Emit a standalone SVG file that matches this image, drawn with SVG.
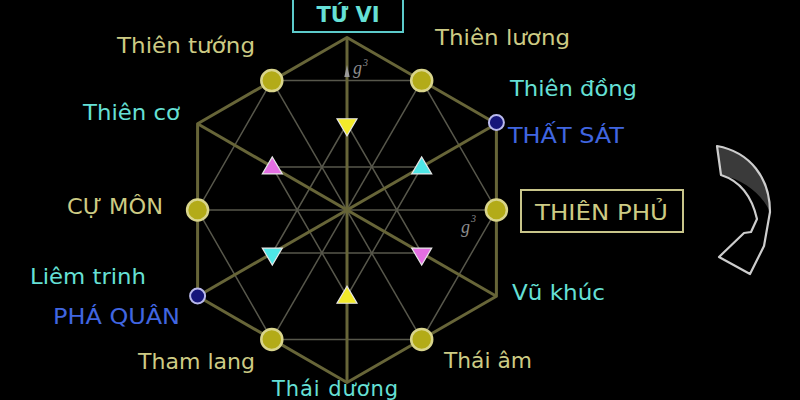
<svg xmlns="http://www.w3.org/2000/svg" width="800" height="400" viewBox="0 0 800 400">
<style>
.thin{stroke:#57574b;stroke-width:1.5;fill:none}
.thick{stroke:#676538;stroke-width:3;fill:none;stroke-linejoin:round}
.star{fill:#b3ab18;stroke:#d9d58c;stroke-width:2.5}
.blue{fill:#16167a;stroke:#b9b9ec;stroke-width:2}
.tri{stroke:#e6e6e6;stroke-width:1.2}
.lbl{font-family:"DejaVu Sans","Liberation Sans",sans-serif;font-size:21px}
.kh{fill:#cdcb84}
.cy{fill:#66e0d6}
.bl{fill:#4066e0}
.gl{font-family:"Liberation Serif",serif;font-style:italic;fill:#8c8c8c}
</style>
<rect width="800" height="400" fill="#000"/>

<g id="connectors">
  <polygon class="thin" points="271.8,80.6 421.7,80.6 496.4,210 421.7,339.4 271.8,339.4 197.6,210"/>
  <line class="thin" x1="271.8" y1="80.6" x2="421.7" y2="339.4"/>
  <line class="thin" x1="421.7" y1="80.6" x2="271.8" y2="339.4"/>
  <line class="thin" x1="197.6" y1="210" x2="496.4" y2="210"/>
  <polygon class="thin" points="347,123.75 272.3,253.1 421.7,253.1"/>
  <polygon class="thin" points="347,296.25 272.3,166.9 421.7,166.9"/>
  <polygon class="thick" points="347,37.5 496.4,123.75 496.4,296.25 347,382.5 197.6,296.25 197.6,123.75"/>
  <line class="thick" x1="197.6" y1="123.75" x2="496.4" y2="296.25"/>
  <line class="thick" x1="197.6" y1="296.25" x2="496.4" y2="123.75"/>
  <line class="thick" x1="347" y1="37.5" x2="347" y2="382.5"/>
  <polygon points="347,65 344.3,77 349.7,77" fill="#9a9a9a"/>
</g>

<g id="g3-labels">
  <text class="gl" x="353" y="74" font-size="18">g</text>
  <text class="gl" x="363" y="66" font-size="10">3</text>
  <text class="gl" x="461" y="233" font-size="18">g</text>
  <text class="gl" x="471" y="222" font-size="10">3</text>
</g>

<g id="markers">
  <polygon id="m-yellow-down" class="tri" fill="#f2ea2a" points="337,118.75 357,118.75 347,135.75"/>
  <polygon id="m-cyan-up" class="tri" fill="#4ee6e6" points="421.7,156.9 411.7,173.9 431.7,173.9"/>
  <polygon id="m-magenta-up" class="tri" fill="#e46ee2" points="272.3,156.9 262.3,173.9 282.3,173.9"/>
  <polygon id="m-cyan-down" class="tri" fill="#4ee6e6" points="262.3,248.1 282.3,248.1 272.3,265.1"/>
  <polygon id="m-magenta-down" class="tri" fill="#e46ee2" points="411.7,248.1 431.7,248.1 421.7,265.1"/>
  <polygon id="m-yellow-up" class="tri" fill="#f2ea2a" points="347,286.25 337,303.25 357,303.25"/>
</g>

<g id="tu-vi">
  <rect x="293" y="-3" width="110" height="35" fill="none" stroke="#5ccaca" stroke-width="2"/>
  <text class="lbl cy" x="348" y="22" text-anchor="middle" font-weight="bold" font-size="19">TỨ VI</text>
</g>

<g id="thien-tuong">
  <circle class="star" cx="271.8" cy="80.6" r="10.5"/>
  <text class="lbl kh" x="117" y="53" textLength="138" lengthAdjust="spacingAndGlyphs">Thiên tướng</text>
</g>

<g id="thien-luong">
  <circle class="star" cx="421.7" cy="80.6" r="10.5"/>
  <text class="lbl kh" x="435" y="45" textLength="135" lengthAdjust="spacingAndGlyphs">Thiên lương</text>
</g>

<g id="thien-dong-that-sat">
  <circle class="blue" cx="496.4" cy="122.5" r="7.5"/>
  <text class="lbl cy" x="510" y="96" textLength="127" lengthAdjust="spacingAndGlyphs">Thiên đồng</text>
  <text class="lbl bl" x="508" y="143" textLength="116" lengthAdjust="spacingAndGlyphs">THẤT SÁT</text>
</g>

<g id="thien-phu">
  <circle class="star" cx="496.4" cy="210" r="10.5"/>
  <rect x="521" y="190" width="162" height="42" fill="none" stroke="#c8c58a" stroke-width="2"/>
  <text class="lbl kh" x="535" y="220" textLength="133" lengthAdjust="spacingAndGlyphs">THIÊN PHỦ</text>
</g>

<g id="vu-khuc">
  <text class="lbl cy" x="512" y="300" textLength="93" lengthAdjust="spacingAndGlyphs">Vũ khúc</text>
</g>

<g id="thai-am">
  <circle class="star" cx="421.7" cy="339.4" r="10.5"/>
  <text class="lbl kh" x="444" y="368" textLength="88" lengthAdjust="spacingAndGlyphs">Thái âm</text>
</g>

<g id="thai-duong">
  <text class="lbl cy" x="272" y="396" font-size="14" textLength="126" lengthAdjust="spacing">Thái dương</text>
</g>

<g id="tham-lang">
  <circle class="star" cx="271.8" cy="339.4" r="10.5"/>
  <text class="lbl kh" x="138" y="369" textLength="117" lengthAdjust="spacingAndGlyphs">Tham lang</text>
</g>

<g id="liem-trinh-pha-quan">
  <circle class="blue" cx="197.6" cy="296" r="7.5"/>
  <text class="lbl cy" x="30" y="284" textLength="116" lengthAdjust="spacingAndGlyphs">Liêm trinh</text>
  <text class="lbl bl" x="53" y="324" textLength="127" lengthAdjust="spacingAndGlyphs">PHÁ QUÂN</text>
</g>

<g id="cu-mon">
  <circle class="star" cx="197.6" cy="210" r="10.5"/>
  <text class="lbl kh" x="67" y="214" textLength="96" lengthAdjust="spacingAndGlyphs">CỰ MÔN</text>
</g>

<g id="thien-co">
  <text class="lbl cy" x="83" y="120" textLength="97" lengthAdjust="spacingAndGlyphs">Thiên cơ</text>
</g>

<g id="curved-arrow">
  <path d="M717,146 C750,152 770,178 770,212 C763,196 746,180 721,175 Z" fill="#3a3a3a"/>
  <path d="M717,146 C750,152 770,178 770,212 L764,246 L750,274 L719,257 L744,233 L751,232 L757,219 C752,197 740,181 721,175 Z" fill="none" stroke="#cdcdcd" stroke-width="2.2" stroke-linejoin="round"/>
</g>
</svg>
